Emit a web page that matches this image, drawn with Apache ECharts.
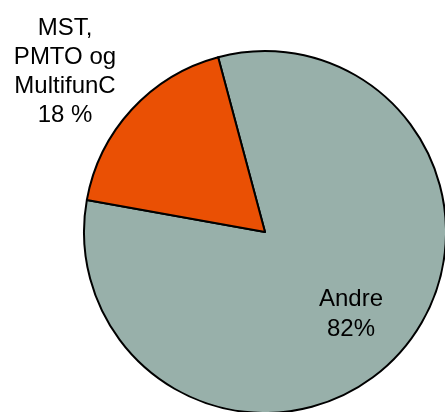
<!DOCTYPE html>
<html>
<head>
<meta charset="utf-8">
<script src="https://cdn.jsdelivr.net/npm/echarts@6/dist/echarts.min.js"></script>
<style>html,body{margin:0;padding:0;background:#fff;}#c{width:445px;height:412px;}</style>
</head>
<body>
<div id="c"></div>
<script>
const categories = ["Andre", "MST,\nPMTO og\nMultifunC"];
const values = [82, 18];
const valueLabels = ["82%", "18 %"];
const colors = ["#98B0AA", "#EA5004"];

const chart = echarts.init(document.getElementById('c'), null, {renderer: 'canvas'});
const labelPos = [[351, 314], [65, 72]];
const labelLH = [30, 29];
chart.setOption({
  animation: false,
  series: [{
    type: 'pie',
    center: [265, 232],
    radius: 181,
    startAngle: 105,
    clockwise: true,
    data: categories.map((c, i) => ({
      name: c, value: values[i],
      itemStyle: {color: colors[i]},
      label: {formatter: c + "\n" + valueLabels[i], lineHeight: labelLH[i]}
    })),
    itemStyle: {borderColor: '#000', borderWidth: 2},
    label: {
      show: true,
      position: 'inside',
      fontFamily: 'Liberation Sans, Arial, sans-serif',
      fontSize: 24,
      color: '#000',
      align: 'center',
      verticalAlign: 'middle'
    },
    labelLine: {show: false},
    labelLayout: function (p) {
      return {x: labelPos[p.dataIndex][0], y: labelPos[p.dataIndex][1], align: 'center', verticalAlign: 'middle'};
    },
    emphasis: {disabled: true}
  }]
});
</script>
</body>
</html>
